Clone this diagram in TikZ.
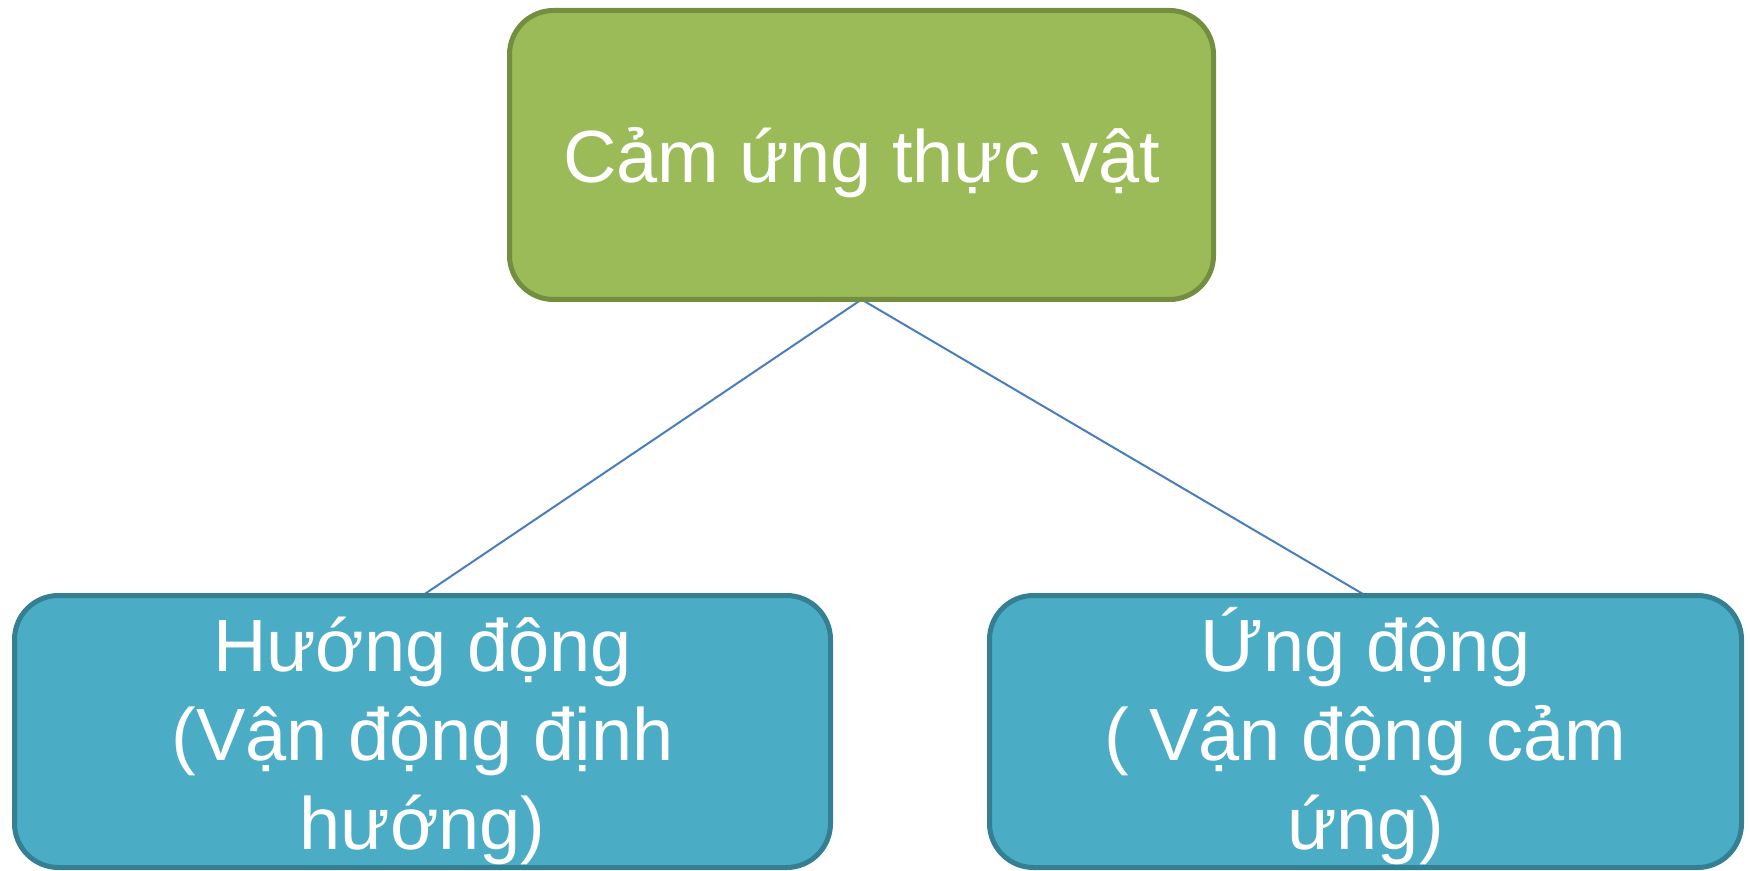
\documentclass[tikz,border=0pt]{standalone}
\usepackage{fontspec}
\setmainfont{Liberation Sans}
\usetikzlibrary{backgrounds}
\definecolor{greenfill}{HTML}{9BBB59}
\definecolor{greenline}{HTML}{738E3F}
\definecolor{bluefill}{HTML}{4BACC6}
\definecolor{blueline}{HTML}{357F92}
\definecolor{linkcol}{HTML}{4A7EBB}
\newcommand{\roothstrut}{\rule{0pt}{36pt}}
\newcommand{\leafhstrut}{\rule{0pt}{36.5pt}}
\newcommand{\mydstrut}{\rule[-8pt]{0pt}{8pt}}
\begin{document}
\begin{tikzpicture}[x=0.5pt,y=-0.5pt,
  box/.style={rounded corners=22pt, line width=2.5pt, inner sep=0pt, outer sep=0pt,
    text=white, align=center, font=\fontsize{37pt}{44.5pt}\selectfont},
  rootbox/.style={box, fill=greenfill, draw=greenline, minimum width=352pt, minimum height=144.5pt},
  leafbox/.style={box, fill=bluefill, draw=blueline, minimum height=136pt},
  link/.style={draw=linkcol, line width=1pt}]
\useasboundingbox (0,0) rectangle (1750,871);
\node[rootbox] (root) at (861.5,155) {\roothstrut Cảm ứng thực vật\mydstrut};
\node[leafbox, minimum width=408pt] (left) at (422.5,731.5)
  {\leafhstrut Hướng động\\(Vận động định\\hướng)\mydstrut};
\node[leafbox, minimum width=376pt] (right) at (1365.5,731.5)
  {\leafhstrut Ứng động\\( Vận động cảm\\ứng)\mydstrut};
\begin{scope}[on background layer]
\draw[link] (root.south) -- (left.north);
\draw[link] (root.south) -- (right.north);
\end{scope}
\end{tikzpicture}
\end{document}
